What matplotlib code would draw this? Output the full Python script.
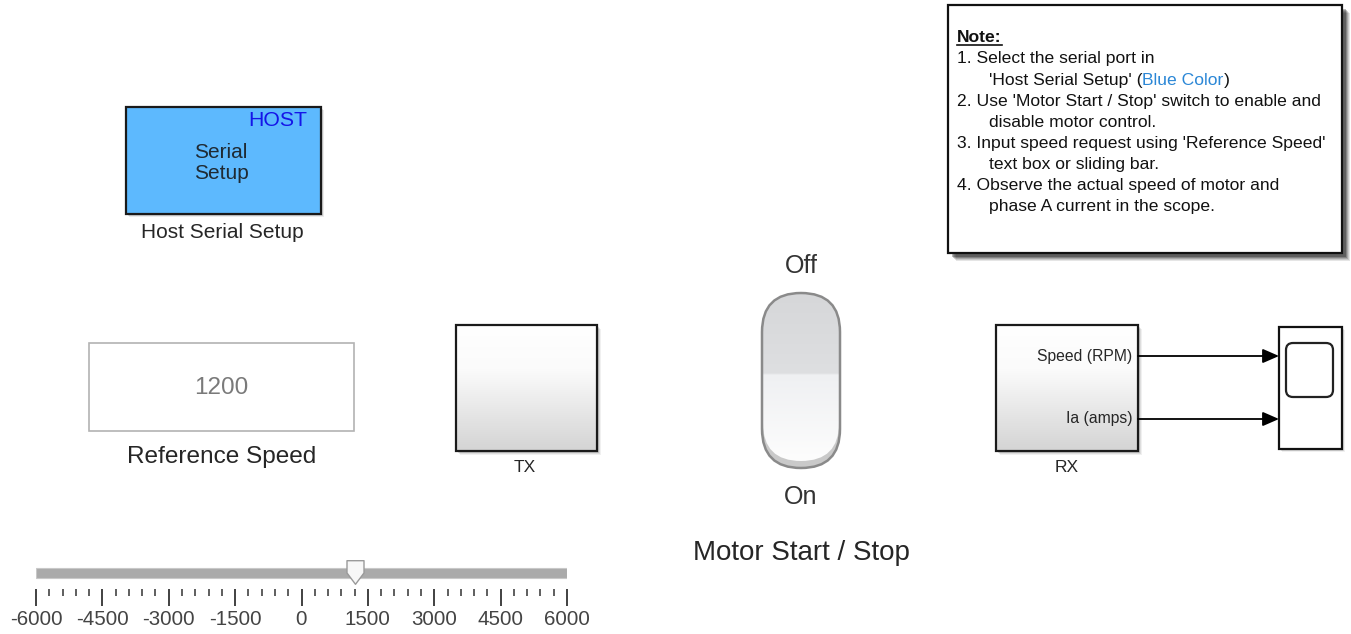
import numpy as np
import matplotlib.pyplot as plt
from matplotlib.patches import Rectangle, FancyBboxPatch
from matplotlib.path import Path
from matplotlib.colors import to_rgb

plt.rcParams['font.family'] = ['Liberation Sans', 'DejaVu Sans']
plt.rcParams['axes.unicode_minus'] = False

# Dashboard values
slider_min = -6000
slider_max = 6000
major_step = 1500
minor_step = 300
ref_speed = 1200

rx_ports = ['Speed (RPM)', 'Ia (amps)']
switch_states = ['Off', 'On']

note_title = 'Note:'
note_lines = [
    (0, "1. Select the serial port in"),
    (1, "'Host Serial Setup' ("),
    (0, "2. Use 'Motor Start / Stop' switch to enable and"),
    (1, "disable motor control."),
    (0, "3. Input speed request using 'Reference Speed'"),
    (1, "text box or sliding bar."),
    (0, "4. Observe the actual speed of motor and"),
    (1, "phase A current in the scope."),
]

W, H = 1351, 634
fig = plt.figure(figsize=(W / 100, H / 100), dpi=100)
ax = fig.add_axes([0, 0, 1, 1])
ax.axis('off')
ax.set_xlim(0, W)
ax.set_ylim(H, 0)
ax.set_autoscale_on(False)

TXT = '#262626'


def vgrad(x0, y0, x1, y1, stops, z=2, clip=None):
    # vertical gradient image, stops = [(pos, color), ...]
    n = 200
    t = np.linspace(0, 1, n)
    pos = [p for p, _ in stops]
    cols = np.array([to_rgb(c) for _, c in stops])
    img = np.stack([np.interp(t, pos, cols[:, k]) for k in range(3)], axis=1)
    img = np.repeat(img[:, None, :], 2, axis=1)
    im = ax.imshow(img, extent=(x0, x1, y1, y0), aspect='auto', zorder=z,
                   interpolation='bilinear')
    if clip is not None:
        im.set_clip_path(clip)
    return im


def shadow(x0, y0, x1, y1, steps, z=1):
    for k, a in steps:
        ax.add_patch(Rectangle((x0 + k, y0 + k), x1 - x0, y1 - y0,
                               fc='#000000', ec='none', alpha=a, zorder=z))


def block(x0, y0, x1, y1):
    shadow(x0, y0, x1, y1, [(4, 0.06), (3, 0.08), (2, 0.12)])
    vgrad(x0, y0, x1, y1, [(0, '#ffffff'), (0.35, '#fbfbfb'), (1, '#d4d4d4')])
    ax.add_patch(Rectangle((x0, y0), x1 - x0, y1 - y0, fc='none',
                           ec='#1a1a1a', lw=1.6, zorder=3))


# ---- Note box
nx0, ny0, nx1, ny1 = 948, 5, 1342, 253
shadow(nx0, ny0, nx1, ny1, [(8, 0.10), (7, 0.12), (6, 0.16), (5, 0.22), (4, 0.28)])
ax.add_patch(Rectangle((nx0, ny0), nx1 - nx0, ny1 - ny0, fc='white',
                       ec='#111111', lw=1.6, zorder=2))
fs_note = 12.6
t_title = ax.text(957, 38, note_title, fontsize=fs_note, fontweight='bold',
                  color='#111111', va='center', ha='left', zorder=4)
fig.canvas.draw()
bb = t_title.get_window_extent().transformed(ax.transData.inverted())
ax.plot([min(bb.x0, bb.x1), max(bb.x0, bb.x1)], [45, 45], color='#111111',
        lw=1.2, zorder=4)

line_y = 59
for lvl, s in note_lines:
    x = 957 if lvl == 0 else 989
    t = ax.text(x, line_y, s, fontsize=fs_note, color='#111111',
                va='center', ha='left', zorder=4)
    if s.endswith('('):
        t2 = ax.annotate('Blue Color', xy=(1, 0), xycoords=t, va='bottom',
                         ha='left', fontsize=fs_note, color='#2b87d6', zorder=4)
        ax.annotate(')', xy=(1, 0), xycoords=t2, va='bottom', ha='left',
                    fontsize=fs_note, color='#111111', zorder=4)
    line_y += 21.1

# ---- Host serial setup block
hx0, hy0, hx1, hy1 = 126, 107, 321, 214
shadow(hx0, hy0, hx1, hy1, [(3, 0.08), (2, 0.12)])
ax.add_patch(Rectangle((hx0, hy0), hx1 - hx0, hy1 - hy0, fc='#5db9fe',
                       ec='#1a1a1a', lw=1.6, zorder=2))
ax.text(307, 120, 'HOST', fontsize=15.3, color='#1515e8', ha='right',
        va='center', zorder=4)
ax.text(221, 163, 'Serial\nSetup', fontsize=15, color='#1f2a33',
        ha='center', va='center', linespacing=1.1, zorder=4)
ax.text(222, 232, 'Host Serial Setup', fontsize=15, color=TXT,
        ha='center', va='center')

# ---- Reference speed edit box
ax.add_patch(Rectangle((89, 343), 265, 88, fc='white', ec='#b3b3b3',
                       lw=1.2, zorder=2))
ax.text(221.5, 388, f'{ref_speed}', fontsize=17.5, color='#7a7a7a',
        ha='center', va='center', zorder=3)
ax.text(221.5, 457, 'Reference Speed', fontsize=17.6, color=TXT,
        ha='center', va='center')

# ---- TX / RX blocks
block(456, 325, 597, 451)
ax.text(525, 467, 'TX', fontsize=12.5, color=TXT, ha='center', va='center')

block(996, 325, 1138, 451)
ax.text(1067, 467, 'RX', fontsize=12.5, color=TXT, ha='center', va='center')
port_y = [356, 419]
for name, py in zip(rx_ports, port_y):
    ax.text(1132, py, name, fontsize=11.3, color=TXT, ha='right',
            va='center', zorder=4)
    ax.annotate('', xy=(1279, py), xytext=(1138, py), zorder=4,
                arrowprops=dict(arrowstyle='-|>,head_length=0.55,head_width=0.24',
                                color='#000000', lw=1.3, mutation_scale=18,
                                shrinkA=0, shrinkB=0))

# ---- Scope
shadow(1279, 327, 1342, 449, [(3, 0.06), (2, 0.1)])
ax.add_patch(Rectangle((1279, 327), 63, 122, fc='white', ec='#111111',
                       lw=1.6, zorder=2))
ax.add_patch(FancyBboxPatch((1286, 343), 47, 54,
                            boxstyle='round,pad=0,rounding_size=7',
                            fc='white', ec='#222222', lw=1.6, zorder=3))

# ---- Toggle switch
sx0, sy0, sw, sh = 762, 293, 78, 175
outer = FancyBboxPatch((sx0, sy0), sw, sh,
                       boxstyle=f'round,pad=0,rounding_size={sw / 2}',
                       fc='#c9c9c9', ec='none', zorder=2)
ax.add_patch(outer)
inner = FancyBboxPatch((sx0 + 1, sy0), sw - 2, sh - 7,
                       boxstyle=f'round,pad=0,rounding_size={(sw - 2) / 2}',
                       fc='none', ec='none', zorder=2)
ax.add_patch(inner)
vgrad(sx0, sy0, sx0 + sw, sy0 + sh - 7,
      [(0, '#d6d7d9'), (0.48, '#dedfe1'), (0.485, '#eff0f2'), (1, '#fdfdfd')],
      z=2.5, clip=inner)
ax.add_patch(FancyBboxPatch((sx0, sy0), sw, sh,
                            boxstyle=f'round,pad=0,rounding_size={sw / 2}',
                            fc='none', ec='#8a8a8a', lw=1.8, zorder=3))
ax.text(801, 266, switch_states[0], fontsize=18, color='#333333',
        ha='center', va='center')
ax.text(801, 497, switch_states[1], fontsize=18, color='#333333',
        ha='center', va='center')
ax.text(801, 553, 'Motor Start / Stop', fontsize=20, color=TXT,
        ha='center', va='center')

ax.set_xlim(0, W)
ax.set_ylim(H, 0)

# ---- Slider (its own axis in speed units)
sl_x0, sl_x1 = 36, 567
sl_top, sl_bot = 552, 589
sax = fig.add_axes([sl_x0 / W, 1 - sl_bot / H, (sl_x1 - sl_x0) / W,
                    (sl_bot - sl_top) / H])
sax.set_xlim(slider_min, slider_max)
sax.set_ylim(0, 1)
sax.patch.set_alpha(0)
for sp in sax.spines.values():
    sp.set_visible(False)
sax.set_yticks([])
sax.set_xticks(np.arange(slider_min, slider_max + 1, major_step))
sax.set_xticks(np.arange(slider_min, slider_max + 1, minor_step), minor=True)
sax.tick_params(axis='x', which='major', length=12, width=1.3, color='#333333',
                direction='out', labelsize=14.8, labelcolor='#444444', pad=3)
sax.tick_params(axis='x', which='minor', length=5, width=1.1, color='#333333',
                direction='out')
# track
sax.add_patch(Rectangle((slider_min, 0.30), slider_max - slider_min, 0.28,
                        fc='#aaaaaa', ec='#c8c8c8', lw=0.8, zorder=1))
# thumb
thumb = Path([(-0.36, 0.5), (0.36, 0.5), (0.36, -0.02), (0.0, -0.5),
              (-0.36, -0.02), (-0.36, 0.5)],
             [Path.MOVETO, Path.LINETO, Path.LINETO, Path.LINETO,
              Path.LINETO, Path.CLOSEPOLY])
sax.plot([ref_speed], [0.45], marker=thumb, markersize=17,
         markerfacecolor='#f7f7f7', markeredgecolor='#9a9a9a',
         markeredgewidth=1.0, zorder=3, clip_on=False)

fig.savefig('out.png', dpi=100)
